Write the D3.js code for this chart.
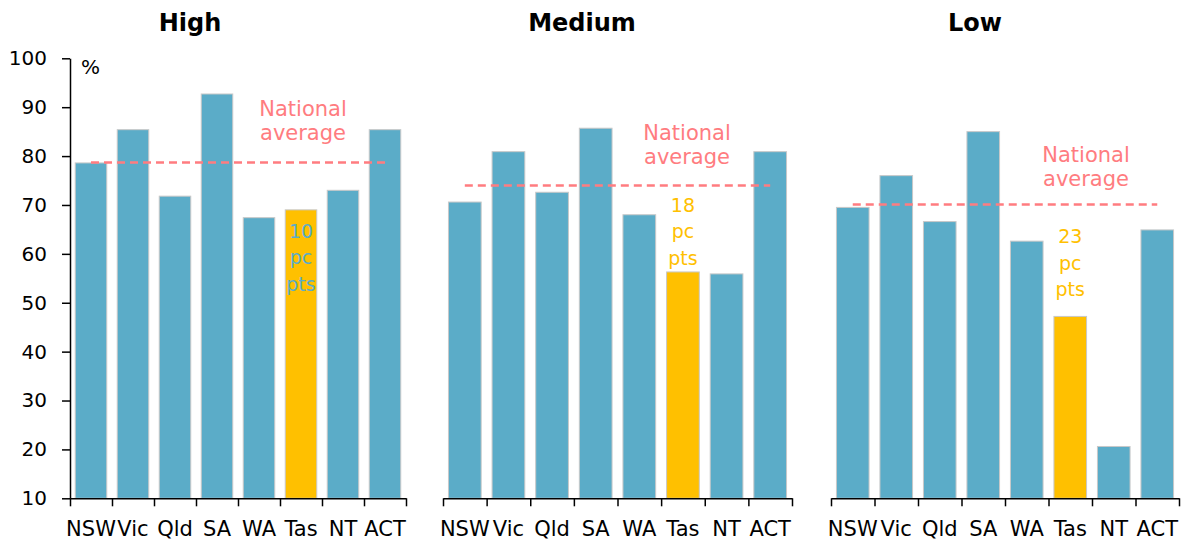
<!DOCTYPE html>
<html>
<head>
<meta charset="utf-8">
<script src="https://cdn.jsdelivr.net/npm/d3@7"></script>
<style>
  body { margin: 0; background: #fff; }
  text { font-family: "DejaVu Sans", sans-serif; }
</style>
</head>
<body>
<div id="chart"></div>
<script>
'use strict';

// data
var states = ["NSW", "Vic", "Qld", "SA", "WA", "Tas", "NT", "ACT"];
var panelTitles = ["High", "Medium", "Low"];
var highValues = [78.6, 85.4, 71.8, 92.7, 67.4, 69.0, 73.0, 85.4];
var mediumValues = [70.6, 80.9, 72.6, 85.7, 68.0, 56.3, 55.9, 80.9];
var lowValues = [69.5, 76.0, 66.6, 85.0, 62.6, 47.2, 20.6, 64.9];
var nationalAverage = [78.7, 74.0, 70.1];
var gapLabels = ["10", "18", "23"];
var yTicks = [10, 20, 30, 40, 50, 60, 70, 80, 90, 100];

var panelValues = [highValues, mediumValues, lowValues];
var highlight = "Tas";

var svgWidth = 1186, svgHeight = 541;
var plotTop = 58.3, plotBottom = 498.3;

// layout per panel
var layout = [
  {left: 70, right: 406, titleX: 190, avgX: 303, avgDy: -46, gapInside: true, gapColor: "#5BACC8"},
  {left: 443, right: 792, titleX: 582, avgX: 687, avgDy: -45, gapInside: false, gapColor: "#FFC000"},
  {left: 831, right: 1179, titleX: 975, avgX: 1086, avgDy: -42, gapInside: false, gapColor: "#FFC000"}
];

var svg = d3.select("#chart").append("svg")
  .attr("width", svgWidth)
  .attr("height", svgHeight);

var y = d3.scaleLinear().domain([10, 100]).range([plotBottom, plotTop]);

panelTitles.forEach(function(title, i) {
  var L = layout[i];
  var values = panelValues[i];
  var g = svg.append("g");

  var x = d3.scaleBand()
    .domain(states)
    .range([L.left, L.right])
    .paddingInner(0.25)
    .paddingOuter(0.125);

  var edge = d3.scaleLinear().domain([0, states.length]).range([L.left, L.right]);

  // title
  g.append("text")
    .attr("x", L.titleX)
    .attr("y", 31)
    .attr("text-anchor", "middle")
    .style("font-size", "24px")
    .style("font-weight", "bold")
    .text(title);

  // bars
  g.selectAll("rect.bar")
    .data(values)
    .enter().append("rect")
    .attr("class", "bar")
    .attr("x", function(d, j) { return x(states[j]); })
    .attr("width", x.bandwidth())
    .attr("y", function(d) { return y(d); })
    .attr("height", function(d) { return y(10) - y(d); })
    .attr("fill", function(d, j) { return states[j] === highlight ? "#FFC000" : "#5BACC8"; })
    .attr("stroke", "#C8C8C8")
    .attr("stroke-width", 1);

  // x axis: boundary ticks
  var xAxis = g.append("g")
    .attr("transform", "translate(0," + plotBottom + ")")
    .call(d3.axisBottom(edge)
      .tickValues(d3.range(states.length + 1))
      .tickFormat("")
      .tickSize(8)
      .tickSizeOuter(0));
  xAxis.select(".domain").attr("stroke", "#000").attr("stroke-width", 1.5);
  xAxis.selectAll(".tick line").attr("stroke", "#000").attr("stroke-width", 1.5);

  // x labels
  var xLabels = g.append("g")
    .attr("transform", "translate(0," + plotBottom + ")")
    .call(d3.axisBottom(x).tickSize(0).tickPadding(0));
  xLabels.select(".domain").remove();
  xLabels.selectAll("text")
    .attr("y", 38)
    .attr("dy", null)
    .attr("fill", "#000")
    .style("font-size", "21px")
    .style("font-family", "'DejaVu Sans', sans-serif");

  // y axis on first panel only
  if (i === 0) {
    var yAxis = g.append("g")
      .attr("transform", "translate(" + L.left + ",0)")
      .call(d3.axisLeft(y)
        .tickValues(yTicks)
        .tickSize(8)
        .tickSizeOuter(0)
        .tickPadding(15));
    yAxis.select(".domain").attr("stroke", "#000").attr("stroke-width", 1.5);
    yAxis.selectAll(".tick line").attr("stroke", "#000").attr("stroke-width", 1.5);
    yAxis.selectAll("text")
      .attr("fill", "#000")
      .style("font-size", "20px")
      .style("font-family", "'DejaVu Sans', sans-serif");

    g.append("text")
      .attr("x", 81)
      .attr("y", 74)
      .style("font-size", "20px")
      .text("%");
  }

  // national average dashed line
  var avgY = y(nationalAverage[i]);
  g.append("line")
    .attr("x1", x(states[0]) + x.bandwidth() / 2)
    .attr("x2", x(states[states.length - 1]) + x.bandwidth() / 2)
    .attr("y1", avgY)
    .attr("y2", avgY)
    .attr("stroke", "#FF7C80")
    .attr("stroke-width", 2.5)
    .attr("stroke-dasharray", "8,5");

  var avgLabel = g.append("text")
    .attr("text-anchor", "middle")
    .attr("fill", "#FF7C80")
    .style("font-size", "21px");
  avgLabel.append("tspan").attr("x", L.avgX).attr("y", avgY + L.avgDy).text("National");
  avgLabel.append("tspan").attr("x", L.avgX).attr("y", avgY + L.avgDy + 24).text("average");

  // gap annotation
  var tasIdx = states.indexOf(highlight);
  var cx = x(highlight) + x.bandwidth() / 2;
  var firstBase;
  if (L.gapInside) {
    firstBase = y(values[tasIdx]) + 28;
  } else {
    firstBase = y((nationalAverage[i] + values[tasIdx]) / 2) - 17;
  }
  var gapText = g.append("text")
    .attr("text-anchor", "middle")
    .attr("fill", L.gapColor)
    .style("font-size", "19px");
  [gapLabels[i], "pc", "pts"].forEach(function(s, k) {
    gapText.append("tspan").attr("x", cx).attr("y", firstBase + k * 26.5).text(s);
  });
});
</script>
</body>
</html>
